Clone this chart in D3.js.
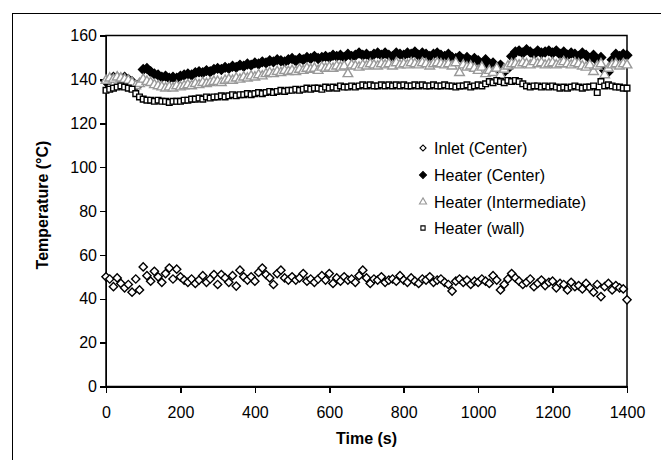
<!DOCTYPE html>
<html>
<head>
<meta charset="UTF-8">
<title>Temperature vs time</title>
<script src="https://cdnjs.cloudflare.com/ajax/libs/d3/7.8.5/d3.min.js"></script>
<style>
    body{ margin:0; background:#fff; }
    svg{ display:block; font-family:"Liberation Sans", Arial, sans-serif; }
    .axis path, .axis line{ stroke:#000; stroke-width:1.5; shape-rendering:crispEdges; }
    .axis text{ font-size:16px; fill:#000; }
    .titulo{ font-size:16px; font-weight:bold; fill:#000; }
    .leyenda{ font-size:16px; fill:#000; }
</style>
</head>
<body>
<div id="grafico"></div>
<script>
// datos (una lectura cada 10 s, de 0 a 1400 s)
var paso = 10;
var tiempo = d3.range(0, 1401, paso);

var inletCenter = [50,49,45.5,49.5,47,45,46.5,43,49,44,
    54.5,50.5,48,52.5,50,47.5,51.5,54,49,53.5,
    50,48.5,47.5,49,47,48.5,50.5,47.5,49,51,
    46.5,51,49.5,47.5,50.5,45.8,53,50,48.5,50,
    48,52,54,51,49.5,46.5,51.5,53,49.5,48.5,
    50,48.5,49.5,51.5,48,49,47.5,49,50.5,48.5,
    51.5,47,49.5,48,50,48.5,49,47.5,50.5,53,
    49.5,47,49,48.5,50,47.5,48.5,49,48,50.5,
    48.5,47.5,49.5,48,47,49,48.5,50,47.5,48.5,
    49,47.5,46.5,43.5,48,49,47.5,48.5,46.5,48,
    47.5,49,48,47,50.5,48.5,44,46.5,49,51.5,
    49.5,48,46.5,47.5,49,45.5,47,48.5,46,47.5,
    48,45,47,46.5,44,47.5,45.5,46,44.5,47,
    45,43,46.5,41,45.5,47,44,46,45,44.5,
    39.5];

var heaterCenter = [139,140,141,141,140.5,141,140,139,137,138,
    144.5,145,143.5,142.5,142,141,141.5,140.5,141,140.5,
    141.5,142,142.5,142,143,143.5,143,144,143.5,144.5,
    145,144.5,145.5,145,146,145.5,146.5,146,147,146.5,
    147.5,147,148,147.5,148.5,148,149,148.5,148,149,
    149.5,148.5,149.5,149,150,149.5,150.5,149.5,150,150.5,
    150,151,150.5,151,150,151.5,150.5,151,152,151,
    151.5,150.5,151.5,152,151,152,151,150.5,152,151.5,
    151,152,151.5,152.5,151,152,151.5,150.5,151.5,152,
    151,150.5,151.5,150,149.5,150.5,149,150,148.5,149.5,
    148.5,147,149,146,147.5,145,146.5,143.5,145,150.5,
    152.5,153,152,153.5,152.5,151.5,153,152,152.5,153,
    152,153,151.5,152.5,151,152,151.5,150.5,152,151,
    149.5,151,148.5,150,144,143.5,149,151.5,150.5,151.5,
    151];

var heaterIntermediate = [139.5,140.5,140,141,140.5,140,139.5,138.5,137,138,
    140,139,138.5,137.5,137,136.5,136,136.5,136,137,
    136.5,137,137.5,137,138,137.5,138.5,138,138.5,139,
    139,138.5,139.5,140,139.5,140.5,140,141,140.5,141.5,
    141,142,141.5,142.5,143,142.5,143.5,143,144,143.5,
    144,143.5,144.5,144,145,144.5,145,144,145.5,145,
    145.5,145,146,145.5,146,142.5,146.5,146,145.5,146.5,
    146,147,146.5,146,147,146.5,147,146,147.5,146.5,
    147,146.5,147.5,147,146.5,147.5,147,146,147,147.5,
    147,146.5,147,146,147.5,143,146.5,145.5,146,145,
    144,145.5,142.5,144,143,145,142,144.5,146,147,
    147,146.5,147.5,147,146.5,148,147,147.5,146.5,147,
    147.5,146.5,147,148,147,146.5,147.5,147,146,145.5,
    146.5,143.5,146,147,142,145,146.5,147,146,147,
    146.5];

var heaterWall = [135,135.5,136,136.5,137,136.5,136,135.5,133.5,132,
    131,130.5,130.5,130,130.5,130,130,129.5,130,130,
    130,130.5,130.5,131,131,131.5,131,132,131.5,132,
    132,132.5,132,132.5,133,132.5,133,133,133.5,133,
    133.5,134,133.5,134,134.5,134,134.5,135,134.5,135,
    135,135.5,135,135.5,136,135.5,136,136,135.5,136.5,
    136,136.5,136,137,136.5,136.5,137,136.5,137,137.5,
    137,137.5,137,137,137.5,137,137.5,137,137.5,137,
    137.5,137,137,137.5,137,137.5,137,137,137.5,137,
    137,137.5,137,137,136.5,137,137,137.5,136.5,137,
    137.5,137,138,139,138.5,139.5,139,138.5,139.5,139,
    139.5,139,138,137,136.5,137,137,136.5,137,136.5,
    137,136.5,136,136.5,136,136.5,137,136.5,136,136.5,
    136.5,137,134,139,137,137.5,137,136.5,136.5,136,
    136];

var xTicks = [0, 200, 400, 600, 800, 1000, 1200, 1400];
var yTicks = [0, 20, 40, 60, 80, 100, 120, 140, 160];

var w = 661, h = 460;
var izq = 106, der = 627, arriba = 35.5, abajo = 386.5;

var xScale = d3.scaleLinear().domain([0, 1400]).range([izq, der]);
var yScale = d3.scaleLinear().domain([0, 160]).range([abajo, arriba]);

var grafico = d3.select("#grafico")
    .append("svg")
    .attr("width", w)
    .attr("height", h);

// marco del area del grafico
grafico.append("rect")
    .attr("x", 12.5).attr("y", 13.5)
    .attr("width", 700).attr("height", 500)
    .attr("fill", "none").attr("stroke", "#000").attr("stroke-width", 1);

// caja del area de trazado
grafico.append("rect")
    .attr("x", izq).attr("y", arriba)
    .attr("width", der - izq).attr("height", abajo - arriba)
    .attr("fill", "none").attr("stroke", "#000").attr("stroke-width", 1.5);

var xAxis = d3.axisBottom(xScale).tickValues(xTicks).tickFormat(d3.format("d"))
    .tickSize(6).tickPadding(14).tickSizeOuter(0);
var yAxis = d3.axisLeft(yScale).tickValues(yTicks).tickFormat(d3.format("d"))
    .tickSize(6).tickPadding(3).tickSizeOuter(0);

grafico.append("g")
    .attr("class", "axis")
    .attr("transform", "translate(0," + abajo + ")")
    .call(xAxis);
grafico.append("g")
    .attr("class", "axis")
    .attr("transform", "translate(" + izq + ",0)")
    .call(yAxis);
grafico.selectAll(".axis text").attr("font-family", null);

// series: forma, tamano, relleno, borde
var series = [
    { nombre: "Inlet (Center)", datos: inletCenter, forma: d3.symbolSquare, tam: 34, rot: 45, fill: "#fff", stroke: "#000" },
    { nombre: "Heater (Center)", datos: heaterCenter, forma: d3.symbolSquare, tam: 44, rot: 45, fill: "#000", stroke: "#000" },
    { nombre: "Heater (Intermediate)", datos: heaterIntermediate, forma: d3.symbolTriangle, tam: 40, rot: 0, fill: "#fff", stroke: "#999" },
    { nombre: "Heater (wall)", datos: heaterWall, forma: d3.symbolSquare, tam: 32, rot: 0, fill: "#fff", stroke: "#000" }
];

series.forEach(function(s){
    var sym = d3.symbol().type(s.forma).size(s.tam);
    grafico.append("g")
        .selectAll("path")
        .data(s.datos)
        .enter()
        .append("path")
        .attr("d", sym)
        .attr("transform", function(d, i){
            return "translate(" + xScale(tiempo[i]) + "," + yScale(d) + ") rotate(" + s.rot + ")";
        })
        .attr("fill", s.fill)
        .attr("stroke", s.stroke)
        .attr("stroke-width", 1.4);
});

// leyenda
var leyenda = grafico.append("g");
var filas = [148, 175, 202, 228];
series.forEach(function(s, i){
    var sym = d3.symbol().type(s.forma).size(s.tam * 0.55);
    leyenda.append("path")
        .attr("d", sym)
        .attr("transform", "translate(423," + filas[i] + ") rotate(" + s.rot + ")")
        .attr("fill", s.fill)
        .attr("stroke", s.stroke)
        .attr("stroke-width", 1.1);
    leyenda.append("text")
        .attr("class", "leyenda")
        .attr("x", 434)
        .attr("y", filas[i] + 6)
        .text(s.nombre);
});

// titulos de los ejes
grafico.append("text")
    .attr("class", "titulo")
    .attr("x", (izq + der) / 2)
    .attr("y", 444)
    .attr("text-anchor", "middle")
    .text("Time (s)");

grafico.append("text")
    .attr("class", "titulo")
    .attr("transform", "translate(48,205) rotate(-90)")
    .attr("text-anchor", "middle")
    .text("Temperature (°C)");
</script>
</body>
</html>
